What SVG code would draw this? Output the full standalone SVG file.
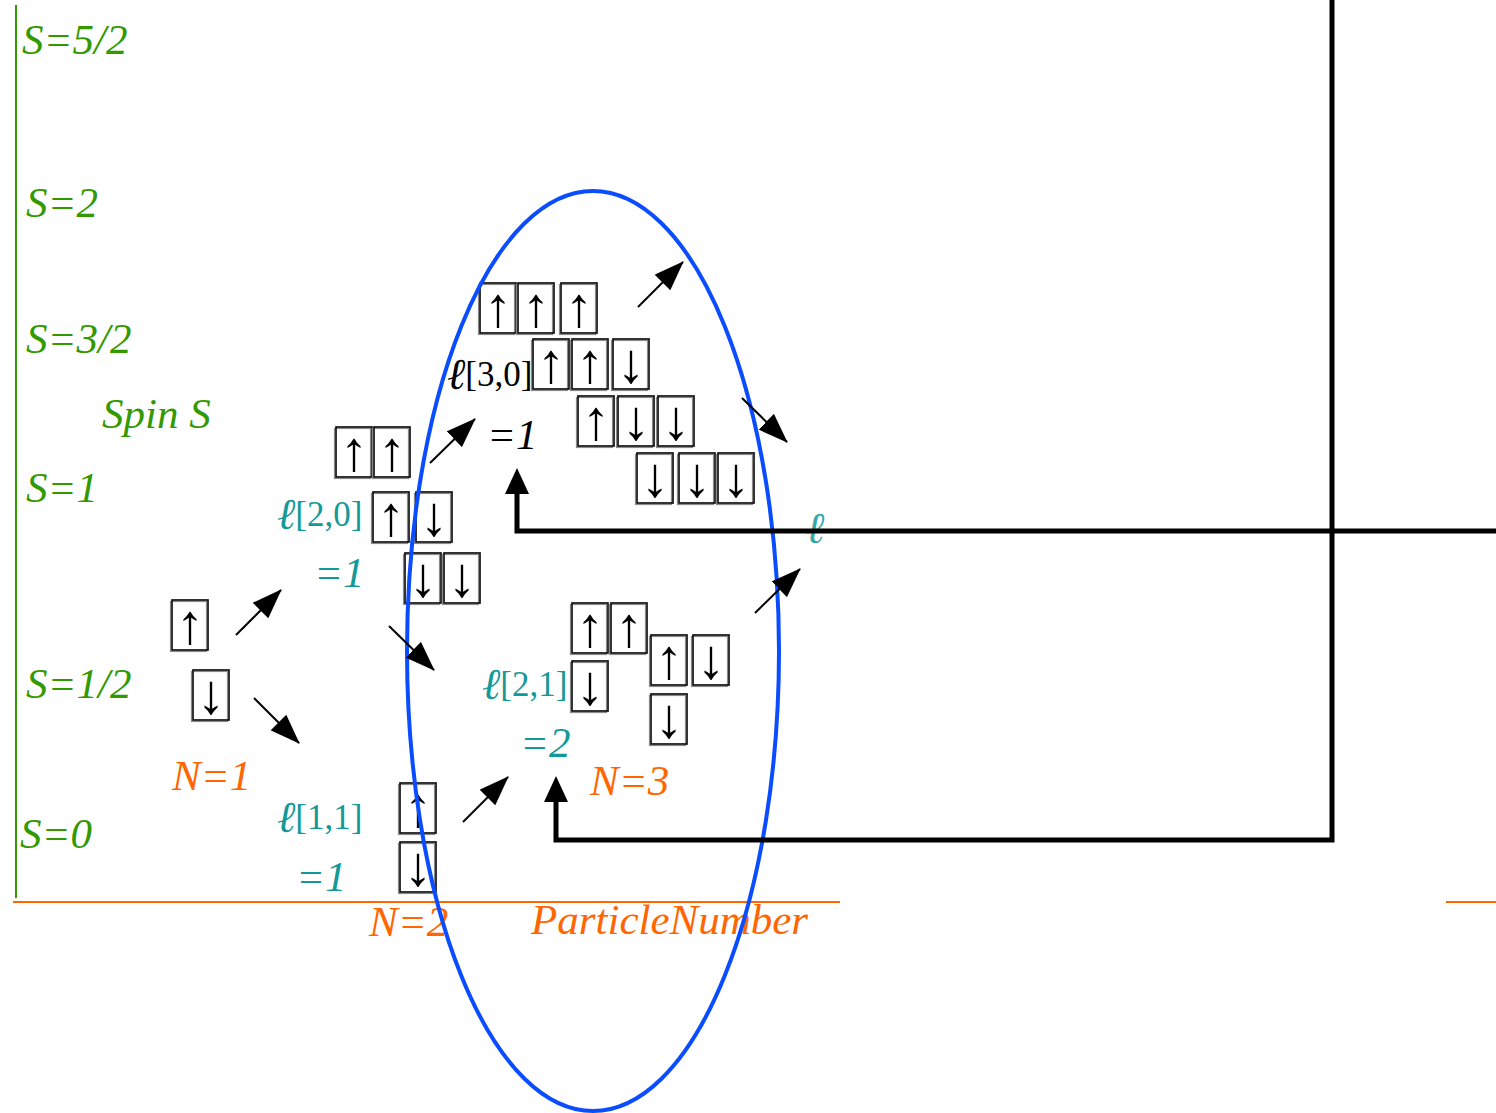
<svg xmlns="http://www.w3.org/2000/svg" width="1496" height="1113" viewBox="0 0 1496 1113">
  <style>
    .lbl { font-family: "Liberation Serif", "Times New Roman", serif; font-style: italic; font-size: 43px; }
    .green { fill: #339900; }
    .orange { fill: #ff6600; }
    .teal { fill: #149999; }
    .blk { fill: #000; }
    .br { font-style: normal; font-size: 35px; }
    .ell { font-family: "DejaVu Serif", "Liberation Serif", serif; font-style: italic; font-size: 44px; }
    .box rect.sh { fill: none; stroke: #8a8a8a; stroke-width: 1.2; }
    .box rect.fr { fill: none; stroke: #111; stroke-width: 1.7; }
    .box text { font-family: "Liberation Serif", "DejaVu Serif", serif; font-size: 56px; fill: #000; text-anchor: middle; }
    .thin { stroke: #000; stroke-width: 2; fill: none; marker-end: url(#headThin); }
    .thick { stroke: #000; stroke-width: 5; fill: none; marker-end: url(#headThick); }
  </style>
  <defs>
    <marker id="headThin" markerUnits="userSpaceOnUse" markerWidth="30" markerHeight="22" viewBox="0 0 30 22" refX="29" refY="11" orient="auto">
      <path d="M0,0 L30,11 L0,22 z" fill="#000"/>
    </marker>
    <marker id="headThick" markerUnits="userSpaceOnUse" markerWidth="26" markerHeight="24" viewBox="0 0 26 24" refX="0" refY="12" orient="auto">
      <path d="M0,0 L26,12 L0,24 z" fill="#000"/>
    </marker>
    <!-- spin cell: 36 x 50 frame with a faint offset shadow -->
    <g id="cellUp" class="box">
      <rect class="sh" x="-1.5" y="1.5" width="36" height="50"/>
      <rect class="fr" x="0" y="0" width="36" height="50"/>
      <text x="18" y="43">↑</text>
    </g>
    <g id="cellDn" class="box">
      <rect class="sh" x="-1.5" y="1.5" width="36" height="50"/>
      <rect class="fr" x="0" y="0" width="36" height="50"/>
      <text x="18" y="43">↓</text>
    </g>
  </defs>

  <rect width="1496" height="1113" fill="#fff"/>

  <!-- axes -->
  <g id="axes">
    <line x1="16" y1="5" x2="16" y2="898" stroke="#339900" stroke-width="2"/>
    <line x1="13" y1="902" x2="840" y2="902" stroke="#ff6600" stroke-width="2"/>
    <line x1="1446" y1="902" x2="1496" y2="902" stroke="#ff6600" stroke-width="2"/>
  </g>

  <!-- spin axis labels -->
  <g id="spin-labels" class="lbl green">
    <text x="22" y="54">S=5/2</text>
    <text x="26" y="217">S=2</text>
    <text x="26" y="353">S=3/2</text>
    <text x="102" y="428">Spin S</text>
    <text x="26" y="502">S=1</text>
    <text x="26" y="698">S=1/2</text>
    <text x="20" y="848">S=0</text>
  </g>

  <!-- particle number labels -->
  <g id="n-labels" class="lbl orange">
    <text x="172" y="790">N=1</text>
    <text x="369" y="936">N=2</text>
    <text x="590" y="795">N=3</text>
    <text x="531" y="934">ParticleNumber</text>
  </g>

  <!-- N=1 states -->
  <g id="n1-up"><use href="#cellUp" x="172" y="600"/></g>
  <g id="n1-down"><use href="#cellDn" x="193" y="670"/></g>

  <!-- N=2, S=1 multiplet -->
  <g id="n2-s1">
    <use href="#cellUp" x="336" y="427"/>
    <use href="#cellUp" x="374" y="427"/>
    <use href="#cellUp" x="373" y="492"/>
    <use href="#cellDn" x="416" y="492"/>
    <use href="#cellDn" x="405" y="553"/>
    <use href="#cellDn" x="444" y="553"/>
  </g>
  <g id="n2-s1-label" class="lbl teal">
    <text x="277" y="529"><tspan class="ell">ℓ</tspan><tspan class="br" dy="-3">[2,0]</tspan></text>
    <text x="314" y="587">=1</text>
  </g>

  <!-- N=2, S=0 singlet -->
  <g id="n2-s0">
    <use href="#cellUp" x="400" y="783"/>
    <use href="#cellDn" x="400" y="842"/>
  </g>
  <g id="n2-s0-label" class="lbl teal">
    <text x="277" y="832"><tspan class="ell">ℓ</tspan><tspan class="br" dy="-3">[1,1]</tspan></text>
    <text x="296" y="891">=1</text>
  </g>

  <!-- N=3, S=3/2 quartet -->
  <g id="n3-s32">
    <use href="#cellUp" x="480" y="283"/>
    <use href="#cellUp" x="518" y="283"/>
    <use href="#cellUp" x="561" y="283"/>
    <use href="#cellUp" x="533" y="339"/>
    <use href="#cellUp" x="572" y="339"/>
    <use href="#cellDn" x="613" y="339"/>
    <use href="#cellUp" x="578" y="396"/>
    <use href="#cellDn" x="618" y="396"/>
    <use href="#cellDn" x="658" y="396"/>
    <use href="#cellDn" x="637" y="453"/>
    <use href="#cellDn" x="679" y="453"/>
    <use href="#cellDn" x="718" y="453"/>
  </g>
  <g id="n3-s32-label" class="lbl blk">
    <text x="447" y="389"><tspan class="ell">ℓ</tspan><tspan class="br" dy="-3">[3,0]</tspan></text>
    <text x="487" y="449">=1</text>
  </g>

  <!-- N=3, S=1/2 doublet -->
  <g id="n3-s12">
    <use href="#cellUp" x="572" y="603"/>
    <use href="#cellUp" x="611" y="603"/>
    <use href="#cellDn" x="572" y="661"/>
    <use href="#cellUp" x="651" y="635"/>
    <use href="#cellDn" x="693" y="635"/>
    <use href="#cellDn" x="651" y="694"/>
  </g>
  <g id="n3-s12-label" class="lbl teal">
    <text x="482" y="699"><tspan class="ell">ℓ</tspan><tspan class="br" dy="-3">[2,1]</tspan></text>
    <text x="520" y="757">=2</text>
  </g>

  <!-- next level, cut at the edge -->
  <g id="n4-label" class="lbl teal" opacity="0.85">
    <text x="806" y="543"><tspan class="ell">ℓ</tspan></text>
  </g>

  <!-- grouping ellipse around N=3 -->
  <g id="n3-ellipse">
    <ellipse cx="593" cy="651" rx="186" ry="460" fill="none" stroke="#0a4cff" stroke-width="4"/>
  </g>

  <!-- connectors -->
  <g id="connectors">
    <line class="thin" x1="236" y1="635" x2="281" y2="590"/>
    <line class="thin" x1="254" y1="698" x2="299" y2="743"/>
    <line class="thin" x1="389" y1="626" x2="434" y2="670"/>
    <line class="thin" x1="430" y1="463" x2="475" y2="419"/>
    <line class="thin" x1="463" y1="822" x2="508" y2="777"/>
    <line class="thin" x1="638" y1="307" x2="683" y2="262"/>
    <line class="thin" x1="742" y1="398" x2="787" y2="442"/>
    <line class="thin" x1="755" y1="613" x2="800" y2="569"/>
    <path class="thick" d="M1496,531 H517 V494"/>
    <path class="thick" d="M1332,0 V840 H556 V802"/>
  </g>
</svg>
